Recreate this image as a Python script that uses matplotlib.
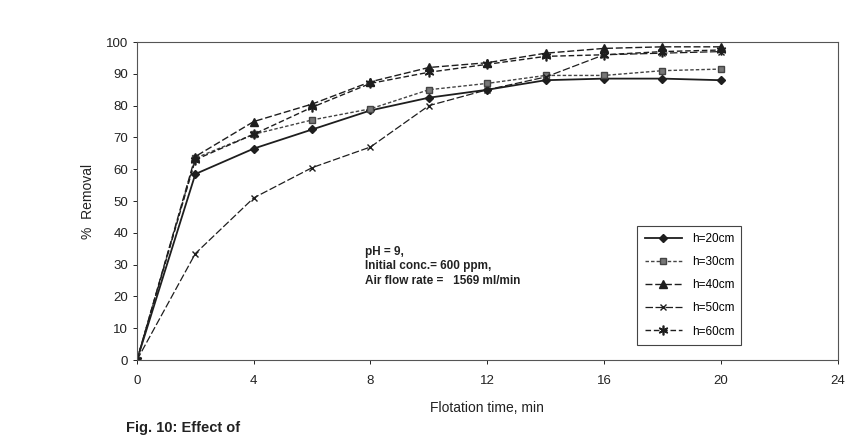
import matplotlib
matplotlib.use("Agg")
import matplotlib.pyplot as plt

plt.rcParams['font.family'] = ['Liberation Sans', 'DejaVu Sans']

# flotation time (min) and % removal for each column height
time_min = [0, 2, 4, 6, 8, 10, 12, 14, 16, 18, 20]
h20 = [0, 58.5, 66.5, 72.5, 78.5, 82.5, 85, 88, 88.5, 88.5, 88]
h30 = [0, 63.5, 71, 75.5, 79, 85, 87, 89.5, 89.5, 91, 91.5]
h40 = [0, 64, 75, 80.5, 87.5, 92, 93.5, 96.5, 98, 98.5, 98.5]
h50 = [0, 33.5, 51, 60.5, 67, 80, 85, 89, 96, 96.5, 97]
h60 = [0, 63, 71, 79.5, 87, 90.5, 93, 95.5, 96, 97, 97.5]

labels = ["h=20cm", "h=30cm", "h=40cm", "h=50cm", "h=60cm"]
x_ticks = [0, 4, 8, 12, 16, 20, 24]
y_ticks = [0, 10, 20, 30, 40, 50, 60, 70, 80, 90, 100]

fig = plt.figure(figsize=(8.67, 4.38), dpi=100)
ax = fig.add_axes([0.158, 0.178, 0.808, 0.726])

ink = '#1e1e1e'
ax.plot(time_min, h20, color=ink, lw=1.3, ls='-', marker='D', ms=4.5, label=labels[0])
ax.plot(time_min, h30, color='#444444', lw=1.0, ls=(0, (2.5, 1.5)), marker='s', ms=4.5,
        mfc='#777777', mec='#444444', label=labels[1])
ax.plot(time_min, h40, color=ink, lw=1.0, ls=(0, (5, 2)), marker='^', ms=5.5, label=labels[2])
ax.plot(time_min, h50, color=ink, lw=0.9, ls=(0, (6, 2)), marker='x', ms=5, mew=1.0, label=labels[3])
ax.plot(time_min, h60, color=ink, lw=1.0, ls=(0, (4, 2)), marker=(6, 2, 0), ms=7, mew=1.2,
        label=labels[4])

ax.set_xlim(0, 24)
ax.set_ylim(0, 100)
ax.set_xticks(x_ticks)
ax.set_yticks(y_ticks)
ax.tick_params(axis='both', labelsize=9.5, colors='#222222', length=3, width=0.7)
ax.tick_params(axis='x', pad=8)
for s in ax.spines.values():
    s.set_color('#555555')
    s.set_linewidth(0.8)

ax.set_xlabel("Flotation time, min", fontsize=10, color='#222222', labelpad=10)
ax.set_ylabel("%  Removal", fontsize=10, color='#222222', labelpad=8)

ax.text(0.326, 0.36, "pH = 9,\nInitial conc.= 600 ppm,\nAir flow rate =   1569 ml/min",
        transform=ax.transAxes, fontsize=8.5, fontweight='bold', va='top', ha='left',
        color='#222222', linespacing=1.3)

leg = ax.legend(loc='lower left', bbox_to_anchor=(0.706, 0.03), fontsize=8.5,
                handlelength=3.2, labelspacing=0.95, borderpad=0.6, fancybox=False,
                framealpha=1, edgecolor='#444444')
leg.get_frame().set_linewidth(0.8)

fig.text(0.145, 0.022, "Fig. 10: Effect of", fontsize=10.5, fontweight='bold',
         color='#222222', va='center')

fig.savefig("out.png", dpi=100)
